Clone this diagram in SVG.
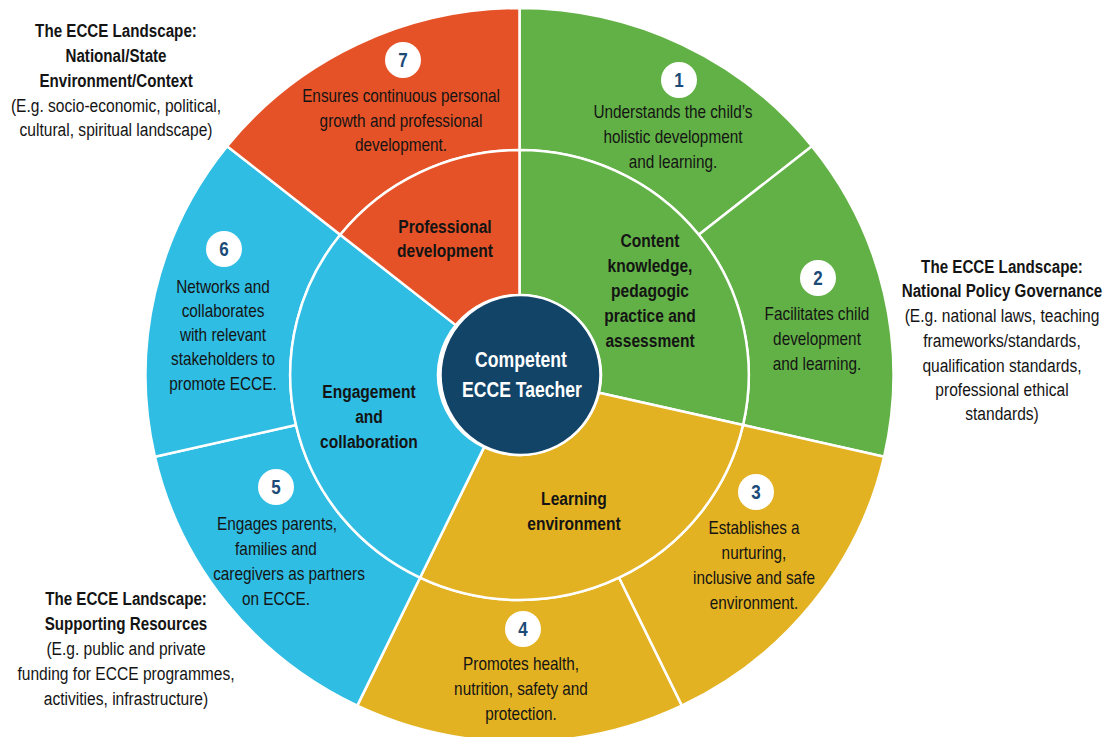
<svg xmlns="http://www.w3.org/2000/svg" width="1109" height="737" viewBox="0 0 1109 737">
<style>
.seg{stroke:#fff;stroke-width:2.5;stroke-linejoin:round;vector-effect:non-scaling-stroke}
.g{fill:#62B146}.y{fill:#E3B223}.b{fill:#2FBDE3}.o{fill:#E65227}
.t text{font-family:"Liberation Sans",Arial,sans-serif;fill:#141414;text-anchor:middle;transform-box:fill-box;transform-origin:center;transform:scaleX(0.82)}
.r text{font-size:18.7px}
.bd text{font-size:19px;font-weight:bold}
.lb{font-size:18.5px;font-weight:bold}
.lr{font-size:19px}
.c{font-family:"Liberation Sans",Arial,sans-serif;font-size:22px;font-weight:bold;fill:#fff;text-anchor:middle;transform-box:fill-box;transform-origin:center;transform:scaleX(0.8)}
.nc{fill:#fff}
.n{font-family:"Liberation Sans",Arial,sans-serif;font-size:20px;font-weight:bold;fill:#1C4B78;text-anchor:middle;transform-box:fill-box;transform-origin:center;transform:scaleX(0.85)}
</style>
<rect width="1109" height="737" fill="#fff"/>

<g id="outer-ring" transform="translate(519.5 375) scale(1.019 1)">
<path id="seg-1" class="seg g" d="M0,-225 L0,-367 A367,367 0 0 1 286.93,-228.82 L175.91,-140.29 A225,225 0 0 0 0,-225 Z"/>
<path id="seg-2" class="seg g" d="M175.91,-140.29 L286.93,-228.82 A367,367 0 0 1 357.80,81.66 L219.36,50.07 A225,225 0 0 0 175.91,-140.29 Z"/>
<path id="seg-3" class="seg y" d="M219.36,50.07 L357.80,81.66 A367,367 0 0 1 159.23,330.66 L97.62,202.72 A225,225 0 0 0 219.36,50.07 Z"/>
<path id="seg-4" class="seg y" d="M97.62,202.72 L159.23,330.66 A367,367 0 0 1 -159.23,330.66 L-97.62,202.72 A225,225 0 0 0 97.62,202.72 Z"/>
<path id="seg-5" class="seg b" d="M-97.62,202.72 L-159.23,330.66 A367,367 0 0 1 -357.80,81.66 L-219.36,50.07 A225,225 0 0 0 -97.62,202.72 Z"/>
<path id="seg-6" class="seg b" d="M-219.36,50.07 L-357.80,81.66 A367,367 0 0 1 -286.93,-228.82 L-175.91,-140.29 A225,225 0 0 0 -219.36,50.07 Z"/>
<path id="seg-7" class="seg o" d="M-175.91,-140.29 L-286.93,-228.82 A367,367 0 0 1 0,-367 L0,-225 A225,225 0 0 0 -175.91,-140.29 Z"/>
</g>

<g id="inner-ring" transform="translate(519.5 375) scale(1.019 1)">
<path id="seg-content" class="seg g" d="M0,-80 L0,-225 A225,225 0 0 1 219.36,50.07 L78.0,17.8 A80,80 0 0 0 0,-80 Z"/>
<path id="seg-learning" class="seg y" d="M78.0,17.8 L219.36,50.07 A225,225 0 0 1 -97.62,202.72 L-34.71,72.08 A80,80 0 0 0 78.0,17.8 Z"/>
<path id="seg-engagement" class="seg b" d="M-34.71,72.08 L-97.62,202.72 A225,225 0 0 1 -175.91,-140.29 L-62.55,-49.88 A80,80 0 0 0 -34.71,72.08 Z"/>
<path id="seg-professional" class="seg o" d="M-62.55,-49.88 L-175.91,-140.29 A225,225 0 0 1 0,-225 L0,-80 A80,80 0 0 0 -62.55,-49.88 Z"/>
</g>

<g id="node-center">
<circle cx="520.5" cy="375" r="80" fill="#124468" stroke="#fff" stroke-width="2.5"/>
<text class="c" x="521" y="367">Competent</text>
<text class="c" x="522" y="397">ECCE Taecher</text>
</g>

<g id="node-content" class="t bd">
<text x="650" y="247">Content</text>
<text x="650" y="272">knowledge,</text>
<text x="650" y="297">pedagogic</text>
<text x="650" y="322">practice and</text>
<text x="650" y="347">assessment</text>
</g>
<g id="node-learning" class="t bd">
<text x="574" y="505">Learning</text>
<text x="574" y="530">environment</text>
</g>
<g id="node-engagement" class="t bd">
<text x="369" y="398">Engagement</text>
<text x="369" y="423">and</text>
<text x="369" y="448">collaboration</text>
</g>
<g id="node-professional" class="t bd">
<text x="445" y="233">Professional</text>
<text x="445" y="257">development</text>
</g>

<g id="node-1">
<circle class="nc" cx="679" cy="80" r="18"/>
<text class="n" x="679" y="87">1</text>
<g class="t r">
<text x="673" y="118">Understands the child’s</text>
<text x="673" y="143">holistic development</text>
<text x="673" y="168">and learning.</text>
</g>
</g>
<g id="node-2">
<circle class="nc" cx="818" cy="278" r="18"/>
<text class="n" x="818" y="285">2</text>
<g class="t r">
<text x="817" y="320">Facilitates child</text>
<text x="817" y="345">development</text>
<text x="817" y="370">and learning.</text>
</g>
</g>
<g id="node-3">
<circle class="nc" cx="756" cy="492" r="18"/>
<text class="n" x="756" y="499">3</text>
<g class="t r">
<text x="754" y="534">Establishes a</text>
<text x="754" y="559">nurturing,</text>
<text x="754" y="584">inclusive and safe</text>
<text x="754" y="609">environment.</text>
</g>
</g>
<g id="node-4">
<circle class="nc" cx="523" cy="629" r="18"/>
<text class="n" x="523" y="636">4</text>
<g class="t r">
<text x="521" y="670">Promotes health,</text>
<text x="521" y="695">nutrition, safety and</text>
<text x="521" y="720">protection.</text>
</g>
</g>
<g id="node-5">
<circle class="nc" cx="276" cy="487" r="18"/>
<text class="n" x="276" y="494">5</text>
<g class="t r">
<text x="277" y="530">Engages parents,</text>
<text x="276" y="555">families and</text>
<text x="289" y="580">caregivers as partners</text>
<text x="276" y="605">on ECCE.</text>
</g>
</g>
<g id="node-6">
<circle class="nc" cx="224" cy="249" r="18"/>
<text class="n" x="224" y="256">6</text>
<g class="t r">
<text x="223" y="293">Networks and</text>
<text x="223" y="317">collaborates</text>
<text x="223" y="341">with relevant</text>
<text x="223" y="365">stakeholders to</text>
<text x="223" y="390">promote ECCE.</text>
</g>
</g>
<g id="node-7">
<circle class="nc" cx="403" cy="60" r="18"/>
<text class="n" x="403" y="67">7</text>
<g class="t r">
<text x="401" y="102">Ensures continuous personal</text>
<text x="401" y="127">growth and professional</text>
<text x="401" y="151">development.</text>
</g>
</g>

<g id="label-national-context" class="t">
<text class="lb" x="116" y="37">The ECCE Landscape:</text>
<text class="lb" x="116" y="62">National/State</text>
<text class="lb" x="116" y="87">Environment/Context</text>
<text class="lr" x="116" y="112">(E.g. socio-economic, political,</text>
<text class="lr" x="116" y="136">cultural, spiritual landscape)</text>
</g>
<g id="label-policy" class="t">
<text class="lb" x="1002" y="273">The ECCE Landscape:</text>
<text class="lb" x="1002" y="297">National Policy Governance</text>
<text class="lr" x="1002" y="322">(E.g. national laws, teaching</text>
<text class="lr" x="1002" y="347">frameworks/standards,</text>
<text class="lr" x="1002" y="372">qualification standards,</text>
<text class="lr" x="1002" y="396">professional ethical</text>
<text class="lr" x="1002" y="420">standards)</text>
</g>
<g id="label-resources" class="t">
<text class="lb" x="126" y="605">The ECCE Landscape:</text>
<text class="lb" x="126" y="630">Supporting Resources</text>
<text class="lr" x="126" y="655">(E.g. public and private</text>
<text class="lr" x="126" y="680">funding for ECCE programmes,</text>
<text class="lr" x="126" y="705">activities, infrastructure)</text>
</g>
</svg>
